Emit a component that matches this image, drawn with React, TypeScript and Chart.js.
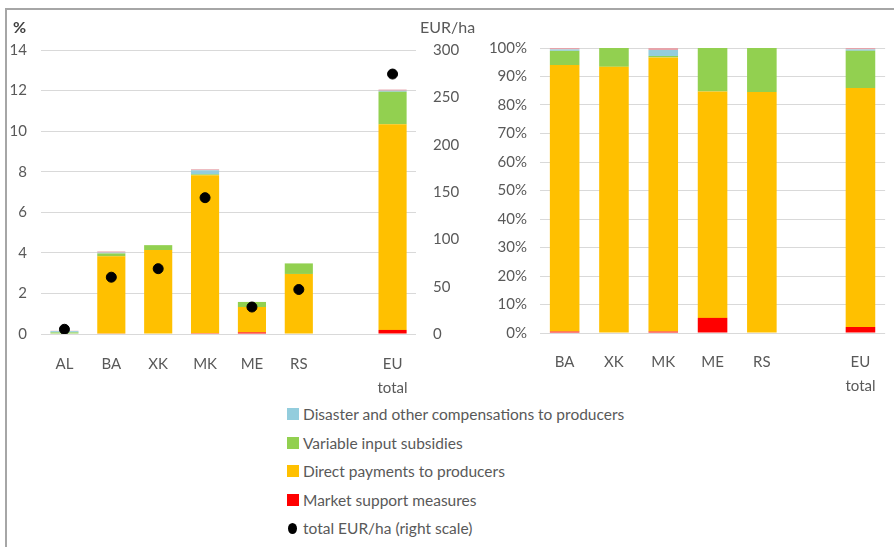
import React, { useEffect, useRef } from "react";
import { Chart, registerables } from "chart.js";
Chart.register(...registerables);

const leftCategories: (string | string[])[] = ["AL", "BA", "XK", "MK", "ME", "RS", "", ["EU", "total"]];
const rightCategories: (string | string[])[] = ["BA", "XK", "MK", "ME", "RS", "", ["EU", "total"]];

// left chart: % (stacked components)
const marketLeft = [0, 0.02, 0, 0.04, 0.08, 0, null, 0.2];
const directLeft = [0, 3.81, 4.14, 7.79, 1.25, 2.96, null, 10.14];
const variableLeft = [0.08, 0.14, 0.24, 0.04, 0.25, 0.52, null, 1.6];
const disasterLeft = [0.06, 0.04, 0, 0.2, 0, 0, null, 0.05];
const otherLeft = [0.02, 0.06, 0, 0.05, 0, 0, null, 0.06];
const totalEurHa = [5, 60, 69, 144, 28.5, 47, null, 274.6];

// right chart: shares in %
const marketRight = [0.5, 0, 0.5, 5.3, 0, null, 2.1];
const directRight = [93.5, 93.4, 96.2, 79.4, 84.6, null, 83.9];
const variableRight = [5.0, 6.6, 0.5, 15.3, 15.4, null, 13];
const disasterRight = [0.5, 0, 2.1, 0, 0, null, 0.5];
const otherRight = [0.5, 0, 0.7, 0, 0, null, 0.5];

const legendLabels = [
  "Disaster and other compensations to producers",
  "Variable input subsidies",
  "Direct payments to producers",
  "Market support measures",
  "total EUR/ha (right scale)",
];

const RED = "#FF0000";
const YELLOW = "#FFC000";
const GREEN = "#92D050";
const BLUE = "#93CDDD";
const PINK = "#E6A3AA";
const TXT = "#595959";
const GRID = "#D9D9D9";
const FONT = "Lato, 'Open Sans', sans-serif";

function barSets(m: any[], d: any[], v: any[], ds: any[], o: any[]) {
  const common = { barPercentage: 0.6, categoryPercentage: 1, order: 1, borderWidth: 0 };
  return [
    { label: "Market support measures", data: m, backgroundColor: RED, ...common },
    { label: "Direct payments to producers", data: d, backgroundColor: YELLOW, ...common },
    { label: "Variable input subsidies", data: v, backgroundColor: GREEN, ...common },
    { label: "Disaster and other compensations to producers", data: ds, backgroundColor: BLUE, ...common },
    { label: "Other", data: o, backgroundColor: PINK, ...common },
  ];
}

const tickFont = { family: FONT, size: 15 };
const xTickFont = { family: FONT, size: 15, lineHeight: 1.55 };

export default function App() {
  const leftRef = useRef<HTMLCanvasElement>(null);
  const rightRef = useRef<HTMLCanvasElement>(null);

  useEffect(() => {
    const left = new Chart(leftRef.current!, {
      type: "bar",
      data: {
        labels: leftCategories as any,
        datasets: [
          ...barSets(marketLeft, directLeft, variableLeft, disasterLeft, otherLeft),
          {
            type: "line",
            label: "total EUR/ha (right scale)",
            data: totalEurHa,
            yAxisID: "y1",
            showLine: false,
            pointRadius: 5,
            pointBackgroundColor: "#000",
            pointBorderColor: "#000",
            borderColor: "#000",
            order: 0,
          } as any,
        ],
      },
      options: {
        responsive: false,
        animation: false,
        layout: { padding: { top: 50, left: 0, right: 0, bottom: 0 } },
        plugins: { legend: { display: false }, tooltip: { enabled: false } },
        scales: {
          x: {
            stacked: true,
            grid: { display: false, drawTicks: false },
            border: { display: false },
            ticks: { color: TXT, font: xTickFont, padding: 19, maxRotation: 0, autoSkip: false },
            afterFit: (s: any) => { s.height = 66; },
          },
          y: {
            stacked: true,
            min: 0,
            max: 14,
            ticks: { stepSize: 2, padding: 14, color: TXT, font: tickFont },
            grid: { color: GRID, drawTicks: false },
            border: { display: false },
            afterFit: (s: any) => { s.width = 41; },
          },
          y1: {
            position: "right",
            min: 0,
            max: 300,
            ticks: { stepSize: 50, padding: 17, color: TXT, font: tickFont },
            grid: { display: false, drawTicks: false },
            border: { display: false },
            afterFit: (s: any) => { s.width = 54; },
          },
        },
      } as any,
    });

    const right = new Chart(rightRef.current!, {
      type: "bar",
      data: {
        labels: rightCategories as any,
        datasets: barSets(marketRight, directRight, variableRight, disasterRight, otherRight) as any,
      },
      options: {
        responsive: false,
        animation: false,
        layout: { padding: { top: 48, left: 0, right: 7, bottom: 0 } },
        plugins: { legend: { display: false }, tooltip: { enabled: false } },
        scales: {
          x: {
            stacked: true,
            grid: { display: false, drawTicks: false },
            border: { display: false },
            ticks: { color: TXT, font: xTickFont, padding: 18, maxRotation: 0, autoSkip: false },
            afterFit: (s: any) => { s.height = 67; },
          },
          y: {
            stacked: true,
            min: 0,
            max: 100,
            ticks: { stepSize: 10, padding: 13, color: TXT, font: tickFont, callback: (v: any) => v + "%" },
            grid: { color: GRID, drawTicks: false },
            border: { display: false },
            afterFit: (s: any) => { s.width = 70; },
          },
        },
      } as any,
    });

    return () => {
      left.destroy();
      right.destroy();
    };
  }, []);

  const legendColors = [BLUE, GREEN, YELLOW, RED, null];

  return (
    <div style={{ position: "absolute", left: 0, top: 0, width: 894, height: 547, background: "#fff", overflow: "hidden", fontFamily: FONT }}>
      <div style={{ position: "absolute", left: 5, top: 8, right: 0, bottom: 0, borderTop: "2px solid #A6A6A6", borderLeft: "2px solid #A6A6A6" }} />
      <canvas ref={leftRef} width={470} height={400} style={{ position: "absolute", left: 0, top: 0 }} />
      <canvas ref={rightRef} width={424} height={400} style={{ position: "absolute", left: 470, top: 0 }} />
      <div style={{ position: "absolute", left: 13, top: 17, fontSize: 16, fontWeight: 700, color: "#404040" }}>%</div>
      <div style={{ position: "absolute", left: 420, top: 17, fontSize: 16, color: TXT }}>EUR/ha</div>
      <div style={{ position: "absolute", left: 287, top: 400 }}>
        {legendLabels.map((l, i) => (
          <div key={l} style={{ display: "flex", alignItems: "center", height: 28.5, fontSize: 15.5, color: TXT, whiteSpace: "nowrap" }}>
            {legendColors[i] ? (
              <span style={{ display: "inline-block", width: 12, height: 12, background: legendColors[i] as string, marginRight: 4 }} />
            ) : (
              <span style={{ display: "inline-block", width: 9, height: 11, borderRadius: "50%", background: "#000", marginLeft: 1, marginRight: 6 }} />
            )}
            <span>{l}</span>
          </div>
        ))}
      </div>
    </div>
  );
}
